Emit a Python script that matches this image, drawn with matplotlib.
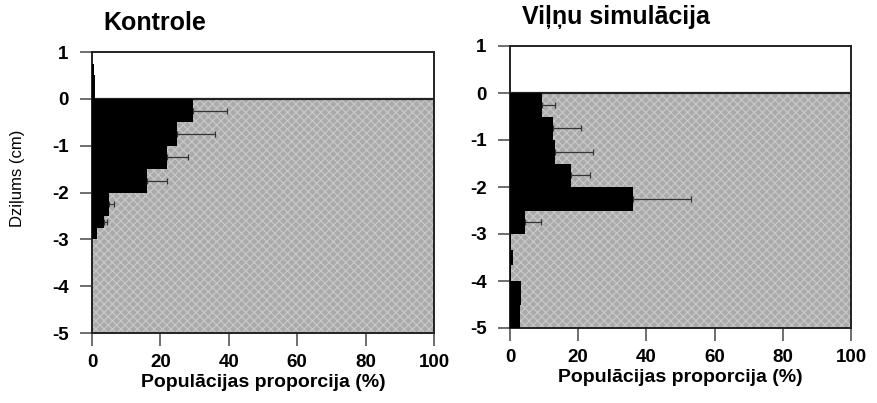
import matplotlib
matplotlib.use("Agg")
import matplotlib.pyplot as plt
import numpy as np

plt.rcParams['font.family'] = ['Liberation Sans', 'DejaVu Sans']
plt.rcParams['hatch.linewidth'] = 0.9

# ---- data ----
titles = ["Kontrole", "Viļņu simulācija"]
xlabel = "Populācijas proporcija (%)"
ylabel = "Dziļums (cm)"
x_ticks = [0, 20, 40, 60, 80, 100]
y_ticks = [1, 0, -1, -2, -3, -4, -5]

# Kontrole: layer top / bottom depth (cm), proportion (%), error-bar end (%)
ctrl_top = [0.75, 0.5, 0.0, -0.5, -1.0, -1.5, -2.0, -2.5, -2.75]
ctrl_bot = [0.5, 0.0, -0.5, -1.0, -1.5, -2.0, -2.5, -2.75, -3.0]
ctrl_val = [0.5, 1.0, 29.4, 24.8, 22.0, 16.0, 5.0, 3.5, 1.5]
ctrl_err = [0.5, 1.0, 39.5, 36.0, 28.0, 22.0, 6.5, 4.5, 1.5]

# Viļņu simulācija
wave_top = [0.0, -0.5, -1.0, -1.5, -2.0, -2.5, -3.0, -3.33, -3.67, -4.0, -4.5]
wave_bot = [-0.5, -1.0, -1.5, -2.0, -2.5, -3.0, -3.33, -3.67, -4.0, -4.5, -5.0]
wave_val = [9.3, 12.7, 13.2, 18.0, 36.2, 4.4, 0.3, 1.0, 0.3, 3.2, 2.8]
wave_err = [13.2, 20.8, 24.2, 23.6, 53.0, 9.0, 0.3, 1.0, 0.3, 3.2, 2.8]

panels = [
    (titles[0], ctrl_top, ctrl_bot, ctrl_val, ctrl_err),
    (titles[1], wave_top, wave_bot, wave_val, wave_err),
]

W, H = 877, 403
fig = plt.figure(figsize=(W / 100, H / 100), dpi=100)
rects = [
    [92 / W, (H - 333) / H, 342 / W, 281 / H],
    [510 / W, (H - 328) / H, 341 / W, 282 / H],
]
title_x = [0.032, 0.035]

for i, (title, top, bot, val, err) in enumerate(panels):
    ax = fig.add_axes(rects[i])
    top = np.array(top); bot = np.array(bot)
    val = np.array(val); err = np.array(err)
    centers = (top + bot) / 2
    heights = top - bot

    # textured sediment background
    ax.axhspan(-5, 0, facecolor='#aaaaaa', edgecolor='#c8c8c8',
               hatch='xxxx', linewidth=0, zorder=0)
    ax.axhline(0, color='#222222', lw=1.6, zorder=3)

    # error bars (one-sided)
    mask = err > val + 0.01
    ax.errorbar(val[mask], centers[mask],
                xerr=[np.zeros(mask.sum()), err[mask] - val[mask]],
                fmt='none', ecolor='#333333', elinewidth=0.9,
                capsize=2, capthick=0.9, zorder=2)

    ax.barh(centers, val, height=heights, color='black',
            edgecolor='none', zorder=4)

    ax.set_xlim(0, 100)
    ax.set_ylim(-5, 1)
    ax.set_xticks(x_ticks)
    ax.set_yticks(y_ticks)
    ax.set_xticklabels([str(t) for t in x_ticks], fontsize=13.5, fontweight='bold')
    ax.set_yticklabels([str(t) for t in y_ticks], fontsize=13.5, fontweight='bold')
    ax.tick_params(axis='both', direction='out', length=9, width=1.2,
                   color='#555555', pad=6)
    ax.tick_params(axis='y', pad=8)
    for s in ax.spines.values():
        s.set_linewidth(1.4)
        s.set_color('#222222')
    ax.set_xlabel(xlabel, fontsize=14, fontweight='bold', labelpad=2)
    ax.text(title_x[i], 1.077, title, transform=ax.transAxes, fontsize=18,
            fontweight='bold', ha='left', va='baseline')
    if i == 0:
        ax.set_ylabel(ylabel, fontsize=12)
        ax.yaxis.set_label_coords(-0.195, 0.55)

fig.savefig("out.png", dpi=100)
